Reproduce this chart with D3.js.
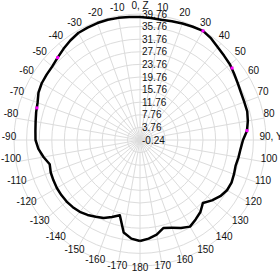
<!DOCTYPE html>
<html>
<head>
<meta charset="utf-8">
<script src="https://cdn.jsdelivr.net/npm/d3@7"></script>
<style>
  body { margin: 0; background: #fff; }
  text { font-family: "Liberation Sans", Arial, sans-serif; }
</style>
</head>
<body>
<div id="chart"></div>
<script>
// Pattern angles (deg, clockwise from top) and gain values
const angles = [-180, -175, -170, -165, -160, -155, -150, -145, -140, -135, -130, -125, -120, -115,
  -110, -105, -100, -95, -90, -85, -80, -75, -70, -65, -60, -55, -50, -45, -40, -35, -30, -25,
  -20, -15, -10, -5, 0, 5, 10, 15, 20, 25, 30, 35, 40, 45, 50, 55, 60, 65, 70, 75, 80, 85, 90,
  95, 100, 105, 110, 115, 120, 125, 130, 135, 140, 145, 150, 155, 160, 165, 170, 175, 180];
const gains = [31.82, 31.19, 29.60, 24.52, 25.79, 27.06, 27.86, 28.81, 29.51, 29.92, 30.17, 30.24, 30.24, 30.08,
  29.92, 29.44, 30.87, 32.14, 32.93, 33.09, 33.41, 33.89, 34.36, 35.32, 35.79, 35.95, 36.11, 36.74, 37.54, 38.33, 38.97, 39.13,
  39.28, 39.28, 39.13, 38.97, 38.81, 38.65, 38.49, 38.81, 39.13, 39.44, 39.76, 39.13, 38.17, 37.54, 37.06, 36.27, 35.63, 35.16, 35.00, 35.00, 34.52, 33.86, 32.46,
  31.82, 31.51, 31.19, 31.51, 31.82, 31.66, 30.87, 29.60, 28.01, 29.60, 30.55, 31.51, 30.55, 29.44, 28.65, 30.24, 31.19, 31.82];

// Highlighted sample points
const markerAngles = [-72.7, -45, 30, 52, 85];
const markerGains = [34.04, 36.74, 39.76, 36.84, 33.86];

// Radial tick values and angle tick labels
const radialTicks = [-0.24, 3.76, 7.76, 11.76, 15.76, 19.76, 23.76, 27.76, 31.76, 35.76, 39.76];
const angleTicks = d3.range(-170, 181, 10);
const angleLabel = a => a === 0 ? "0, Z" : (a === 90 ? "90, Y" : String(a));

const width = 280;
const height = 280;
const cx = 140, cy = 140;
const R = 126;

const svg = d3.select("#chart")
  .append("svg")
  .attr("width", width)
  .attr("height", height);

const g = svg.append("g").attr("transform", `translate(${cx},${cy})`);

const r = d3.scaleLinear().domain([-0.24, 39.76]).range([0, R]);
const rad = d => d * Math.PI / 180;

// Grid rings
g.selectAll("circle.ring")
  .data(radialTicks.slice(1))
  .enter()
  .append("circle")
  .attr("class", "ring")
  .attr("r", d => r(d))
  .attr("fill", "none")
  .attr("stroke", "#dcdcdc")
  .attr("stroke-width", 1);

// Spokes
g.selectAll("line.spoke")
  .data(angleTicks)
  .enter()
  .append("line")
  .attr("x1", 0).attr("y1", 0)
  .attr("x2", d => R * Math.sin(rad(d)))
  .attr("y2", d => -R * Math.cos(rad(d)))
  .attr("stroke", "#dcdcdc")
  .attr("stroke-width", 1);

// Angle labels (nudged up a little, like the original)
g.selectAll("text.angle")
  .data(angleTicks)
  .enter()
  .append("text")
  .attr("x", d => 131 * Math.sin(rad(d)))
  .attr("y", d => -131 * Math.cos(rad(d)) - 4)
  .attr("text-anchor", "middle")
  .attr("dominant-baseline", "central")
  .attr("font-size", "10px")
  .style("fill", "#111")
  .text(angleLabel);

// Radial labels along the 0 spoke
g.selectAll("text.radial")
  .data(radialTicks)
  .enter()
  .append("text")
  .attr("x", 2)
  .attr("y", d => -r(d))
  .attr("dominant-baseline", "central")
  .attr("font-size", "10px")
  .style("fill", "#111")
  .text(d => d.toFixed(2));

// Pattern curve
const line = d3.lineRadial()
  .angle((d, i) => rad(angles[i]))
  .radius(d => r(d));

g.append("path")
  .datum(gains)
  .attr("d", line)
  .attr("fill", "none")
  .attr("stroke", "#000")
  .attr("stroke-width", 2.5)
  .attr("stroke-linejoin", "round");

// Markers
g.selectAll("rect.marker")
  .data(markerGains)
  .enter()
  .append("rect")
  .attr("x", (d, i) => r(d) * Math.sin(rad(markerAngles[i])) - 1.5)
  .attr("y", (d, i) => -r(d) * Math.cos(rad(markerAngles[i])) - 1.5)
  .attr("width", 3)
  .attr("height", 3)
  .style("fill", "#ff00ff");
</script>
</body>
</html>
